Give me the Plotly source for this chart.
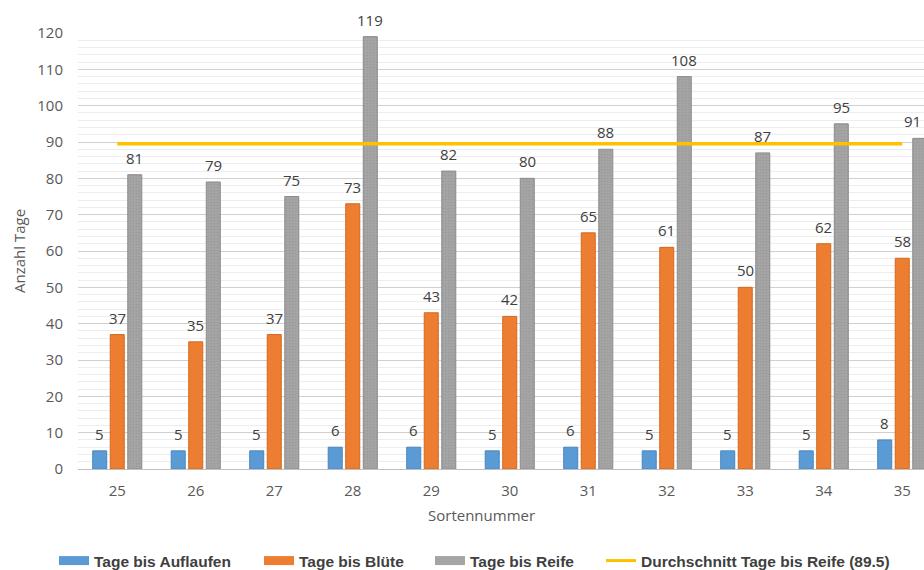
import plotly.graph_objects as go

sorten = ["25", "26", "27", "28", "29", "30", "31", "32", "33", "34", "35"]
auflaufen = [5, 5, 5, 6, 6, 5, 6, 5, 5, 5, 8]
bluete = [37, 35, 37, 73, 43, 42, 65, 61, 50, 62, 58]
reife = [81, 79, 75, 119, 82, 80, 88, 108, 87, 95, 91]
durchschnitt = 89.5

series = [
    ("Tage bis Auflaufen", auflaufen, "#5B9BD5", "#4A86BE"),
    ("Tage bis Blüte", bluete, "#ED7D31", "#D2691F"),
    ("Tage bis Reife", reife, "#A5A5A5", "#8C8C8C"),
]
avg_name = f"Durchschnitt Tage bis Reife ({durchschnitt})"
avg_color = "#FFC000"

tick_font = dict(family="Open Sans, Liberation Sans, sans-serif", size=15, color="#595959")
label_font = dict(family="Open Sans, Liberation Sans, sans-serif", size=15, color="#404040")

W, H = 924, 570
left, top, bottom = 78, 33, 101
band = 78.5
upper = (W - left) / band - 0.5

fig = go.Figure()
for name, vals, col, edge in series:
    marker = dict(color=col, line=dict(color=edge, width=1))
    if name == "Tage bis Reife":
        marker["pattern"] = dict(shape=".", size=3, solidity=0.25, fgcolor="#999999", bgcolor=col, fillmode="replace")
    fig.add_trace(go.Bar(name=name, x=sorten, y=vals, marker=marker, showlegend=False))

fig.add_trace(go.Scatter(
    name=avg_name, x=sorten, y=[durchschnitt] * len(sorten), mode="lines",
    line=dict(color=avg_color, width=3.5), showlegend=False,
))

# legend entries: wide colour swatches for the bars, a thin line for the average
legend_widths = [160, 126, 126, 250]
for (name, vals, col, edge), lw in zip(series, legend_widths[:3]):
    fig.add_trace(go.Scatter(
        name=name, x=[None], y=[None], mode="lines",
        line=dict(color=col, width=9), legendwidth=lw,
    ))
fig.add_trace(go.Scatter(
    name=avg_name, x=[None], y=[None], mode="lines",
    line=dict(color=avg_color, width=3), legendwidth=legend_widths[3],
))

# value labels above every bar (category index as x position)
slot_px = 17.5
for i, (name, vals, col, edge) in enumerate(series):
    for k, v in enumerate(vals):
        shift = (i - 1) * slot_px
        anchor = "center"
        centre_px = left + (k + 0.5) * band + shift
        if centre_px + 10 > W:
            # keep the label inside the chart at the right edge
            anchor = "right"
            shift = W - 1 - (left + (k + 0.5) * band)
        fig.add_annotation(
            x=k, y=v, text=str(v), showarrow=False, yanchor="bottom", xanchor=anchor,
            xshift=shift, yshift=5, font=label_font,
        )

# x-axis title placed in paper coordinates
fig.add_annotation(
    x=(481 - left) / (W - left), y=-(515 - (H - bottom)) / (H - top - bottom),
    xref="paper", yref="paper", yanchor="middle",
    text="Sortennummer", showarrow=False, font=tick_font,
)

fig.update_layout(
    width=W, height=H,
    margin=dict(l=left, r=0, t=top, b=bottom, autoexpand=False),
    plot_bgcolor="white", paper_bgcolor="white",
    barmode="group", bargap=0.33, bargroupgap=0.2,
    showlegend=True,
    legend=dict(
        orientation="h", x=(54 - left) / (W - left), xanchor="left",
        y=-(561 - (H - bottom)) / (H - top - bottom), yanchor="middle",
        font=dict(family="Liberation Sans, sans-serif", size=15.5, color="#404040", weight="bold"),
        traceorder="normal", itemwidth=30,
    ),
    xaxis=dict(
        type="category", range=[-0.5, upper], showgrid=False,
        tickfont=tick_font, ticks="", showline=True, linecolor="#BFBFBF", linewidth=1,
        ticklabelstandoff=8,
    ),
    yaxis=dict(
        range=[0, 120], dtick=10, tickfont=tick_font,
        title=dict(text="Anzahl Tage", font=tick_font, standoff=8),
        showgrid=True, gridcolor="#D0D0D0", gridwidth=1,
        minor=dict(dtick=2, showgrid=True, gridcolor="#EDEDED", gridwidth=1),
        zeroline=False, ticks="", ticklabelstandoff=14,
    ),
)

fig.write_html("out.html")
